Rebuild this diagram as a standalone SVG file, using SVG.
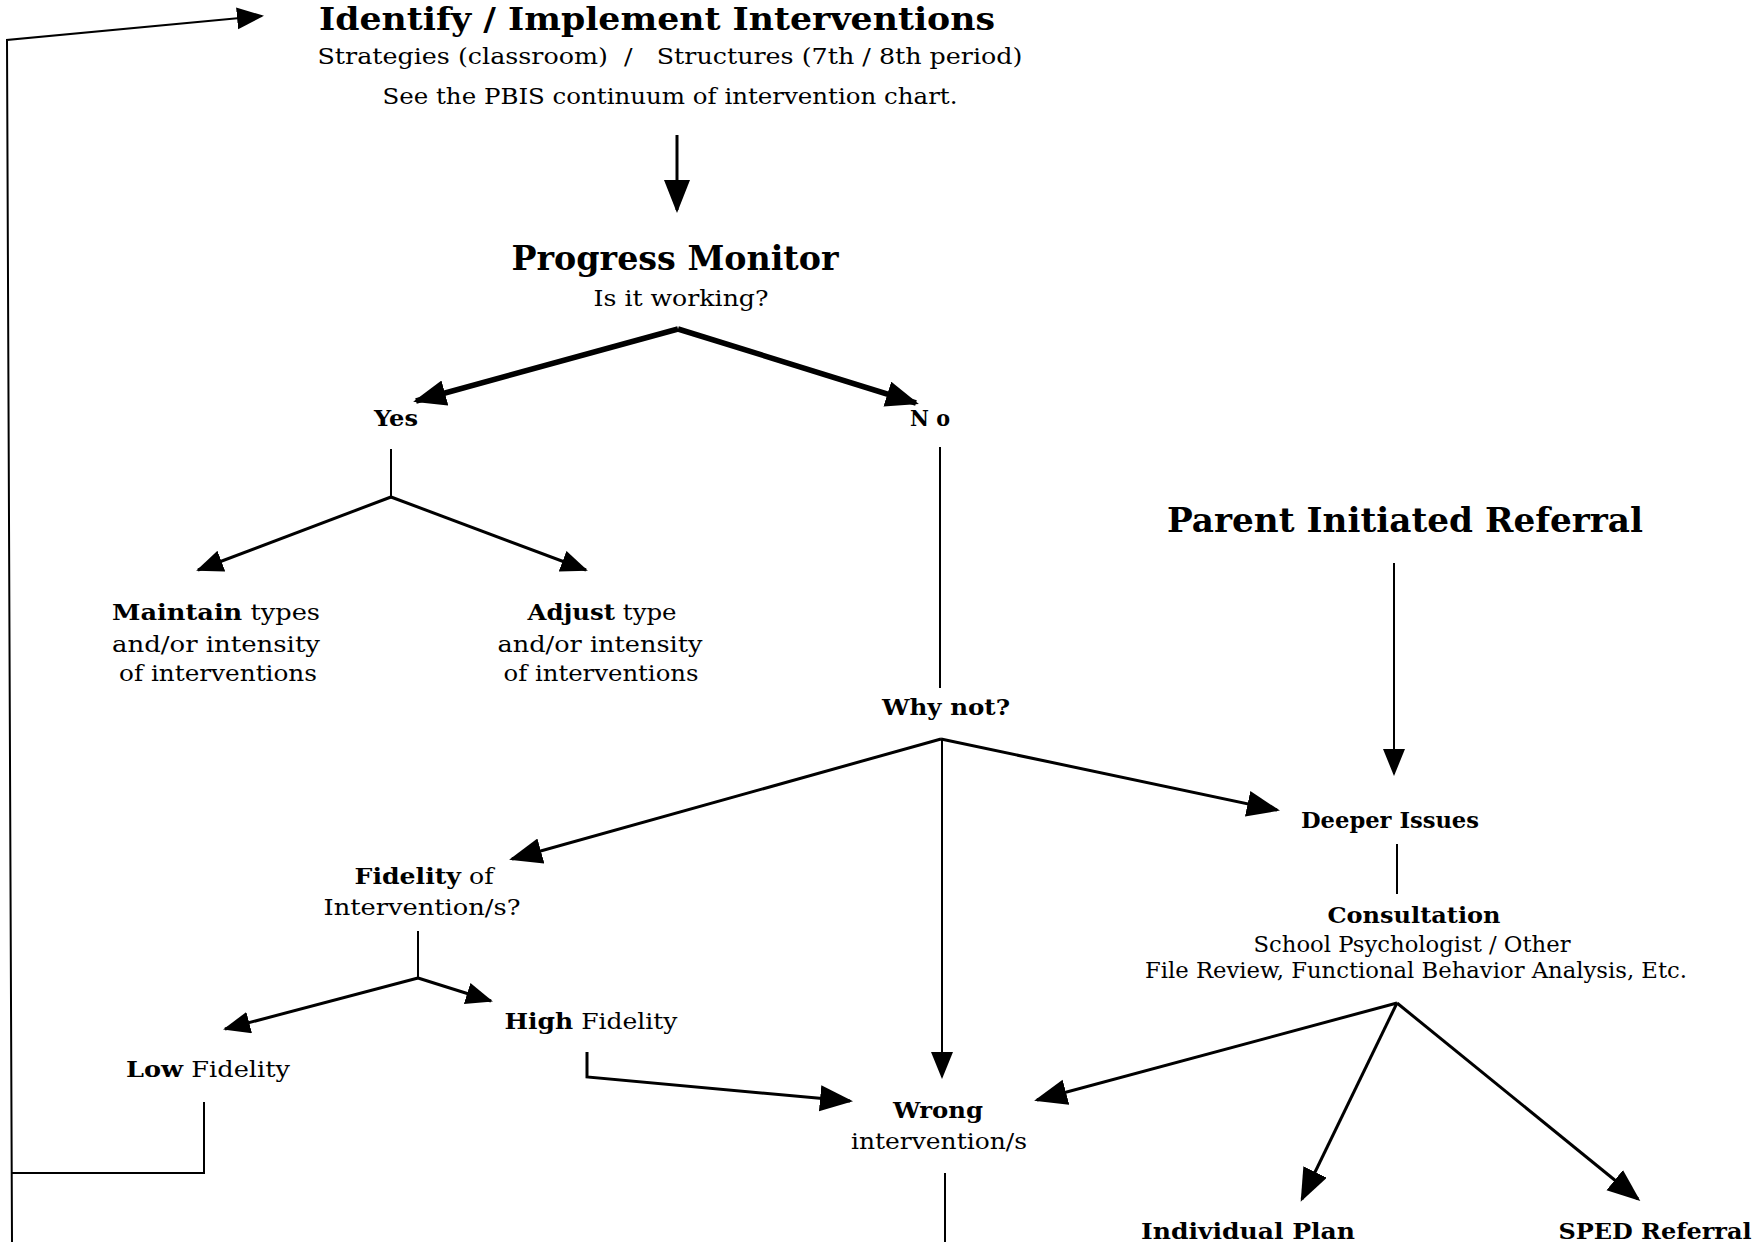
<svg xmlns="http://www.w3.org/2000/svg" width="1763" height="1242" viewBox="0 0 1763 1242">
<style>
text{font-family:"DejaVu Serif","Liberation Serif",serif;fill:#000;text-anchor:middle}
.big{font-size:34px;font-weight:bold}
.n{font-size:22px}
.b{font-weight:bold}
.hd{font-size:22px;font-weight:bold}
.c{fill:none;stroke:#000;stroke-linejoin:miter}
.w5{stroke-width:5.5}
.w3{stroke-width:3}
.w2{stroke-width:2}
</style>
<defs>
<marker id="ah" markerUnits="userSpaceOnUse" markerWidth="36" markerHeight="28" refX="30" refY="13" orient="auto">
<path d="M0,0 L33,13 L0,26 Z" fill="#000"/>
</marker>
<marker id="ahs" markerUnits="userSpaceOnUse" markerWidth="30" markerHeight="24" refX="25" refY="11" orient="auto">
<path d="M0,0 L27,11 L0,22 Z" fill="#000"/>
</marker>
</defs>
<rect width="1763" height="1242" fill="#fff"/>

<g id="connectors">
<path class="c w2" d="M12,1242 L7,40 L262,16" marker-end="url(#ahs)"/>
<path class="c w2" d="M204,1102 V1173 H12"/>
<path class="c w3" d="M677,135 V210" marker-end="url(#ah)"/>
<path class="c w5" d="M678,329 L416,401" marker-end="url(#ah)"/>
<path class="c w5" d="M678,329 L916,403" marker-end="url(#ah)"/>
<path class="c w2" d="M391,449 V497"/>
<path class="c w3" d="M391,497 L198,570" marker-end="url(#ahs)"/>
<path class="c w3" d="M391,497 L586,570" marker-end="url(#ahs)"/>
<path class="c w2" d="M940,447 V688"/>
<path class="c w3" d="M941,739 L512,859" marker-end="url(#ah)"/>
<path class="c w3" d="M941,739 L1277,810" marker-end="url(#ah)"/>
<path class="c w2" d="M942,739 V1077" marker-end="url(#ahs)"/>
<path class="c w2" d="M1394,563 V774" marker-end="url(#ahs)"/>
<path class="c w2" d="M1397,844 V894"/>
<path class="c w3" d="M1397,1003 L1037,1100" marker-end="url(#ah)"/>
<path class="c w3" d="M1397,1003 L1302,1199" marker-end="url(#ah)"/>
<path class="c w3" d="M1397,1003 L1638,1199" marker-end="url(#ah)"/>
<path class="c w2" d="M418,931 V978"/>
<path class="c w3" d="M418,978 L225,1029" marker-end="url(#ahs)"/>
<path class="c w3" d="M418,978 L491,1001" marker-end="url(#ahs)"/>
<path class="c w3" d="M587,1052 V1077 L850,1101" marker-end="url(#ah)"/>
<path class="c w2" d="M945,1173 V1242"/>
</g>

<g id="identify">
<text class="big" x="657" y="30" font-size="32" textLength="676" lengthAdjust="spacingAndGlyphs" style="font-size:32px">Identify / Implement Interventions</text>
<text class="n" x="670" y="64" textLength="705" lengthAdjust="spacingAndGlyphs" xml:space="preserve">Strategies (classroom)  /   Structures (7th / 8th period)</text>
<text class="n" x="670" y="104" textLength="575" lengthAdjust="spacingAndGlyphs">See the PBIS continuum of intervention chart.</text>
</g>

<g id="progress">
<text class="big" x="675" y="270" textLength="327" lengthAdjust="spacingAndGlyphs">Progress Monitor</text>
<text class="n" x="681" y="306" textLength="175" lengthAdjust="spacingAndGlyphs">Is it working?</text>
</g>

<g id="yes"><text class="hd" x="396" y="426" textLength="44" lengthAdjust="spacingAndGlyphs">Yes</text></g>
<g id="no"><text class="hd" x="930" y="426" textLength="40" lengthAdjust="spacingAndGlyphs">N o</text></g>

<g id="maintain">
<text class="n" x="216" y="620" textLength="208" lengthAdjust="spacingAndGlyphs"><tspan class="b">Maintain</tspan> types</text>
<text class="n" x="216" y="652" textLength="208" lengthAdjust="spacingAndGlyphs">and/or intensity</text>
<text class="n" x="218" y="681" textLength="198" lengthAdjust="spacingAndGlyphs">of interventions</text>
</g>

<g id="adjust">
<text class="n" x="602" y="620" textLength="149" lengthAdjust="spacingAndGlyphs"><tspan class="b">Adjust</tspan> type</text>
<text class="n" x="600" y="652" textLength="205" lengthAdjust="spacingAndGlyphs">and/or intensity</text>
<text class="n" x="601" y="681" textLength="195" lengthAdjust="spacingAndGlyphs">of interventions</text>
</g>

<g id="whynot"><text class="hd" x="946" y="715" textLength="128" lengthAdjust="spacingAndGlyphs">Why not?</text></g>

<g id="parent"><text class="big" x="1405" y="532" textLength="476" lengthAdjust="spacingAndGlyphs">Parent Initiated Referral</text></g>

<g id="deeper"><text class="hd" x="1390" y="828" textLength="178" lengthAdjust="spacingAndGlyphs">Deeper Issues</text></g>

<g id="consultation">
<text class="hd" x="1414" y="923" textLength="173" lengthAdjust="spacingAndGlyphs">Consultation</text>
<text class="n" x="1412" y="952" textLength="317" lengthAdjust="spacingAndGlyphs">School Psychologist / Other</text>
<text class="n" x="1416" y="978" textLength="542" lengthAdjust="spacingAndGlyphs">File Review, Functional Behavior Analysis, Etc.</text>
</g>

<g id="fidelity">
<text class="n" x="424" y="884" textLength="139" lengthAdjust="spacingAndGlyphs"><tspan class="b">Fidelity</tspan> of</text>
<text class="n" x="422" y="915" textLength="197" lengthAdjust="spacingAndGlyphs">Intervention/s?</text>
</g>

<g id="high"><text class="n" x="591" y="1029" textLength="173" lengthAdjust="spacingAndGlyphs"><tspan class="b">High</tspan> Fidelity</text></g>
<g id="low"><text class="n" x="208" y="1077" textLength="164" lengthAdjust="spacingAndGlyphs"><tspan class="b">Low</tspan> Fidelity</text></g>

<g id="wrong">
<text class="hd" x="938" y="1118" textLength="90" lengthAdjust="spacingAndGlyphs">Wrong</text>
<text class="n" x="939" y="1149" textLength="176" lengthAdjust="spacingAndGlyphs">intervention/s</text>
</g>

<g id="individual"><text class="hd" x="1248" y="1239" textLength="214" lengthAdjust="spacingAndGlyphs">Individual Plan</text></g>
<g id="sped"><text class="hd" x="1655" y="1239" textLength="193" lengthAdjust="spacingAndGlyphs">SPED Referral</text></g>
</svg>
